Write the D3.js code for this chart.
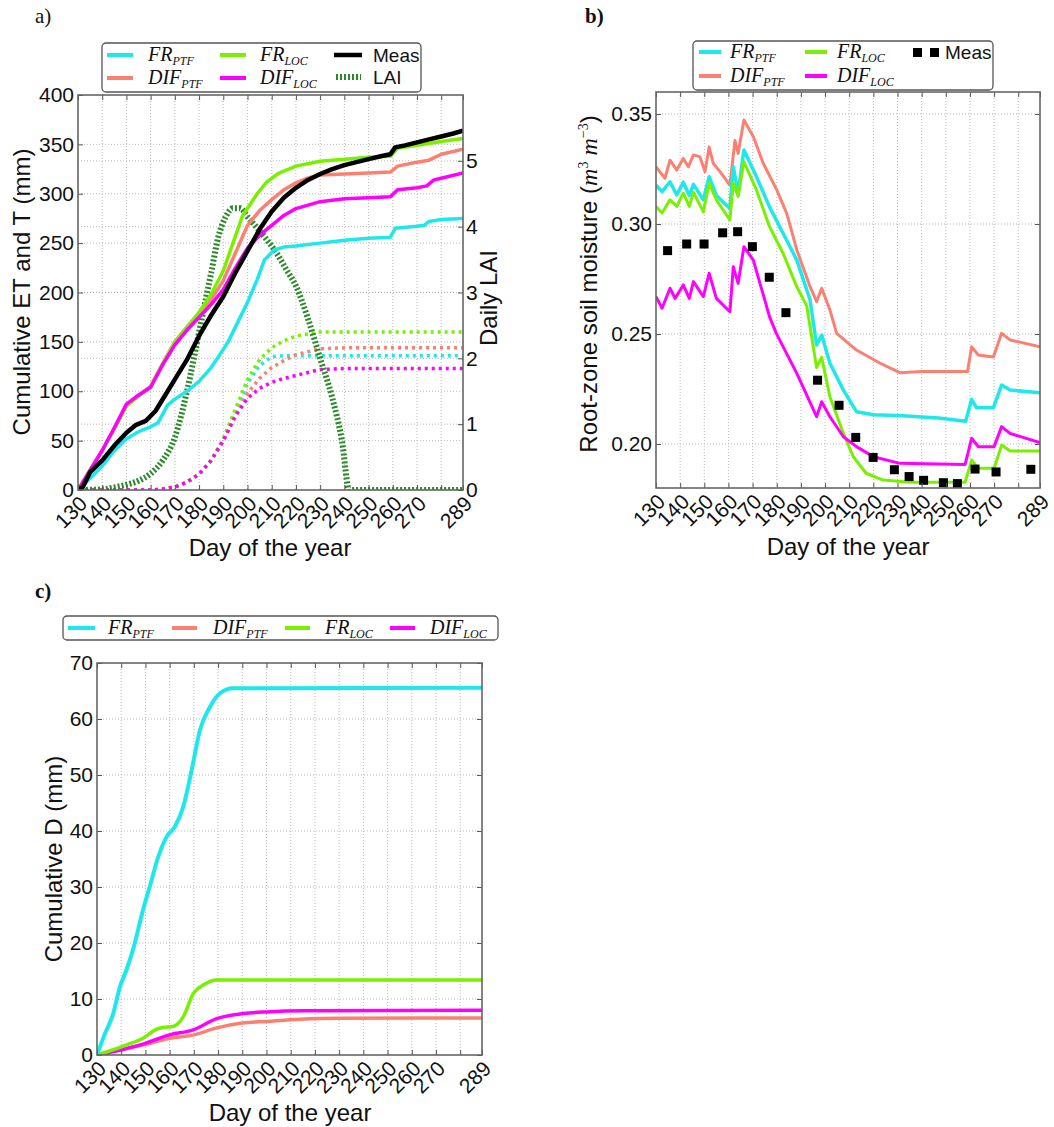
<!DOCTYPE html>
<html><head><meta charset="utf-8">
<script src="https://cdn.jsdelivr.net/npm/d3@7"></script>
<style>
body{margin:0;background:#fff;}
text{font-family:"Liberation Sans",Arial,Helvetica,sans-serif;fill:#111;}
</style>
</head><body>
<svg id="chart" width="1054" height="1127"></svg>
<script>
// ---------------- DATA ----------------
const dayTicks = [130,140,150,160,170,180,190,200,210,220,230,240,250,260,270,280,289];
const dayTickLabels = ["130","140","150","160","170","180","190","200","210","220","230","240","250","260","270","","289"];

// Panel a: cumulative ET (solid, mm)
const etFrPtf = [[130,0],[135,12],[140,24],[145,40],[150,52],[155,59],[160,64],[163,68],[167,86],[170,92],[175,100],[180,110],[185,124],[188,135],[192,150],[196,170],[200,190],[204,213],[207,233],[211,243],[215,246],[220,247],[230,250],[240,253],[250,255],[259,256],[261,265],[270,267],[273,268],[275,272],[280,274],[289,275]];
const etDifPtf = [[130,0],[135,20],[140,40],[145,62],[150,86],[155,96],[160,105],[165,128],[170,150],[175,165],[180,178],[185,193],[190,212],[195,240],[200,268],[205,283],[210,294],[215,304],[220,311],[225,316],[230,319],[240,320],[250,321],[259,322],[262,328],[270,332],[275,334],[280,340],[289,345]];
const etFrLoc = [[130,0],[135,20],[140,40],[145,62],[150,85],[155,95],[160,105],[165,128],[170,150],[175,165],[180,180],[185,198],[190,222],[194,250],[198,278],[204,300],[208,312],[213,321],[220,328],[230,333],[240,335],[250,337],[259,338],[262,346],[270,349],[280,353],[289,356]];
const etDifLoc = [[130,0],[135,20],[140,40],[145,63],[150,87],[155,96],[160,104],[165,127],[170,147],[175,162],[180,175],[185,188],[190,203],[195,225],[200,245],[205,258],[210,268],[215,278],[220,285],[230,292],[240,295],[250,296],[259,297],[262,304],[270,306],[274,308],[277,314],[289,321]];
const etMeas = [[130,0],[132,3],[135,18],[140,30],[145,45],[150,58],[154,66],[158,70],[162,80],[166,96],[170,112],[175,132],[180,156],[185,177],[190,196],[195,220],[200,242],[205,264],[210,282],[215,296],[220,306],[225,314],[230,320],[235,325],[240,329],[245,332],[250,335],[255,338],[259,340],[261,347],[265,349],[270,352],[275,355],[280,358],[285,361],[289,364]];
// Panel a: cumulative T (dotted, mm)
const tFrPtf = [[130,0],[160,0],[165,1],[170,3],[175,8],[180,16],[185,30],[190,50],[195,78],[200,108],[205,126],[210,135],[215,136],[289,136]];
const tDifPtf = [[130,0],[160,0],[165,1],[170,3],[175,8],[180,16],[185,30],[190,50],[195,75],[200,98],[205,113],[210,124],[215,131],[220,137],[225,140],[230,143],[240,144],[289,144]];
const tFrLoc = [[130,0],[160,0],[165,1],[170,3],[175,8],[180,16],[185,30],[190,52],[195,82],[200,112],[205,132],[210,144],[215,151],[220,156],[225,158],[230,160],[289,160]];
const tDifLoc = [[130,0],[160,0],[165,1],[170,3],[175,8],[180,16],[185,30],[190,50],[195,75],[200,93],[205,103],[210,109],[215,113],[220,116],[225,119],[230,122],[240,123],[289,123]];
// Panel a: daily LAI (right axis)
const laiDaily = [[130,0],[140,0.01],[145,0.04],[150,0.08],[155,0.14],[160,0.25],[165,0.45],[170,0.8],[175,1.5],[180,2.4],[185,3.3],[188,3.85],[191,4.15],[194,4.28],[197,4.28],[200,4.15],[204,3.98],[208,3.8],[212,3.6],[216,3.35],[220,3.1],[225,2.6],[230,2.0],[235,1.4],[239,0.75],[242,0],[289,0]];

// Panel b: root-zone soil moisture (m3 m-3)
const smFrPtf = [[130,0.3177],[132.5,0.3147],[135.8,0.3192],[138.6,0.3132],[141.3,0.319],[143.8,0.313],[145.5,0.318],[149.6,0.311],[152,0.3215],[155,0.313],[160.6,0.307],[162,0.326],[164,0.314],[166.4,0.3336],[171.6,0.3215],[177,0.3078],[182.6,0.2958],[188.3,0.2836],[193.8,0.2655],[196.5,0.245],[198.6,0.2495],[202,0.2367],[207.6,0.2245],[213,0.2147],[220,0.2133],[232,0.2128],[247,0.2118],[258.2,0.2103],[260.7,0.2203],[262.7,0.2165],[269.7,0.2165],[273.1,0.2268],[276.6,0.2245],[289,0.2233]];
const smDifPtf = [[130,0.326],[133.7,0.3208],[135.8,0.329],[138.6,0.3245],[141.3,0.3298],[143.4,0.326],[145.5,0.3314],[148.2,0.3305],[150.3,0.3238],[152,0.335],[153.7,0.3276],[156.5,0.3238],[160.6,0.3177],[162.7,0.338],[164,0.3321],[166.4,0.3473],[170.3,0.3397],[174.4,0.3276],[180,0.3155],[184.1,0.3049],[188.3,0.2882],[193.8,0.2715],[196.5,0.2647],[198.6,0.2708],[202,0.261],[204.8,0.2503],[213,0.2427],[222.8,0.2367],[231,0.2324],[240,0.233],[259,0.233],[260.7,0.2442],[263.4,0.2405],[269.7,0.2395],[273.1,0.2503],[276.6,0.2473],[289,0.2442]];
const smFrLoc = [[130,0.3079],[132.5,0.305],[135.8,0.311],[138.6,0.308],[141.3,0.314],[143.8,0.308],[145.5,0.3145],[149.6,0.3055],[152,0.3185],[155,0.311],[160.6,0.3018],[162,0.3185],[164,0.3125],[166.4,0.3283],[171.6,0.3155],[177,0.2988],[182.6,0.2867],[188.3,0.2715],[192.4,0.2628],[196.5,0.2348],[198.6,0.2394],[202,0.2215],[207.6,0.2048],[211.7,0.1942],[217,0.1867],[224,0.1836],[235,0.1826],[258,0.1826],[260.7,0.1927],[263.4,0.189],[270,0.189],[273.1,0.1995],[276.6,0.1968],[289,0.1968]];
const smDifLoc = [[130,0.267],[132.5,0.2617],[135.8,0.2708],[137.9,0.2662],[141.3,0.2723],[143.8,0.2662],[145.5,0.2738],[149.6,0.267],[152,0.2776],[155,0.2662],[160.6,0.2601],[162,0.2806],[164,0.273],[166.4,0.2897],[170.3,0.2836],[177,0.2579],[179.8,0.2503],[188.3,0.2321],[196.5,0.2124],[198.6,0.2192],[202,0.2124],[207.6,0.2033],[213,0.1988],[220,0.1942],[231,0.1912],[258,0.1907],[260.7,0.2026],[263.4,0.1988],[270,0.1988],[273.1,0.2079],[276.6,0.2048],[289,0.2006]];
const smMeas = [[134.8,0.2879],[142.7,0.2909],[149.9,0.2909],[157.6,0.296],[163.8,0.2965],[169.9,0.2897],[176.9,0.2758],[183.8,0.2597],[196.9,0.229],[205.8,0.2176],[212.7,0.203],[219.9,0.1939],[228.7,0.1883],[234.8,0.1852],[240.8,0.1835],[249,0.1824],[254.8,0.182],[262.1,0.1886],[270.8,0.1873],[285.2,0.1885]];

// Panel c: cumulative drainage D (mm)
const dFrPtf = [[130,0],[133,3.5],[136.7,7.4],[139.5,12.2],[142,15],[145,19],[149,25.9],[152.6,31.3],[155,35],[158.8,39],[162.2,40.8],[165.6,44.3],[169.1,50.9],[172.5,58],[176.7,62.2],[180.8,64.6],[186,65.5],[289,65.6]];
const dDifPtf = [[130,0],[139.5,0.9],[152,2.1],[160,3.0],[170,3.6],[179,4.8],[190,5.7],[200,6.0],[214,6.4],[230,6.55],[289,6.6]];
const dFrLoc = [[130,0],[142.3,1.8],[149,3.0],[154.7,4.6],[157,4.9],[161.5,5.1],[165.6,6.8],[169.8,11],[173.9,12.5],[179.4,13.4],[289,13.4]];
const dDifLoc = [[130,0],[139.5,0.9],[147.8,1.8],[160,3.6],[169.8,4.5],[179.4,6.5],[190.4,7.4],[200,7.7],[215,7.9],[289,8.0]];

const etTicks = [0,50,100,150,200,250,300,350,400];
const laiTicks = [0,1,2,3,4,5];
const smTicks = [0.20,0.25,0.30,0.35];
const dTicks = [0,10,20,30,40,50,60,70];

// ---------------- STYLE ----------------
const COL = {frPtf:'#1ee8ea', difPtf:'#fa8072', frLoc:'#78f000', difLoc:'#ff00ff', meas:'#000', lai:'#2a8a2a'};
const svg = d3.select('#chart');

function panel(box, yDomain, yGridTicks){
  const g = svg.append('g');
  const x = d3.scaleLinear().domain([130,289]).range([box.l, box.r]);
  const y = d3.scaleLinear().domain(yDomain).range([box.b, box.t]);
  const grid = g.append('g');
  grid.selectAll('.vg').data(dayTicks.filter(d=>d>130&&d<289)).enter().append('line')
    .attr('x1',d=>x(d)).attr('x2',d=>x(d)).attr('y1',box.t).attr('y2',box.b)
    .attr('stroke','#aaa').attr('stroke-width',0.8).attr('stroke-dasharray','1,2');
  grid.selectAll('.hg').data(yGridTicks).enter().append('line')
    .attr('x1',box.l).attr('x2',box.r).attr('y1',d=>y(d)).attr('y2',d=>y(d))
    .attr('stroke','#aaa').attr('stroke-width',0.8).attr('stroke-dasharray','1,2');
  const clip = 'clip'+Math.round(box.l)+Math.round(box.t);
  svg.append('clipPath').attr('id',clip).append('rect')
    .attr('x',box.l).attr('y',box.t-3).attr('width',box.r-box.l).attr('height',box.b-box.t+3);
  const plot = g.append('g').attr('clip-path','url(#'+clip+')');
  return {g, grid, x, y, plot, box};
}

function axes(P, yTicks, yFmt, rightMirror){
  const {g,x,y,box} = P;
  const xb = g.append('g').attr('transform',`translate(0,${box.b})`)
    .call(d3.axisBottom(x).tickValues(dayTicks).tickFormat((d,i)=>dayTickLabels[i]).tickSizeInner(-5).tickSizeOuter(0));
  xb.selectAll('text').attr('x',0).attr('y',0).attr('dy',0)
    .attr('transform','translate(10,15) rotate(-45)').attr('text-anchor','end')
    .style('font-size','21px').style('font-family','"Liberation Sans",Arial,sans-serif').attr('fill','#111');
  g.append('g').attr('transform',`translate(0,${box.t})`)
    .call(d3.axisTop(x).tickValues(dayTicks).tickFormat('').tickSizeInner(-5).tickSizeOuter(0));
  const yl = g.append('g').attr('transform',`translate(${box.l},0)`)
    .call(d3.axisLeft(y).tickValues(yTicks).tickFormat(yFmt).tickSizeInner(-5).tickSizeOuter(0).tickPadding(4));
  yl.selectAll('text').style('font-size','21px').style('font-family','"Liberation Sans",Arial,sans-serif').attr('fill','#111');
  if(rightMirror){
    g.append('g').attr('transform',`translate(${box.r},0)`)
      .call(d3.axisRight(y).tickValues(yTicks).tickFormat('').tickSizeInner(-5).tickSizeOuter(0));
  }
  g.selectAll('.domain').remove();
  g.selectAll('.tick line').attr('stroke','#555').attr('stroke-width',1);
  g.append('rect').attr('x',box.l).attr('y',box.t).attr('width',box.r-box.l).attr('height',box.b-box.t)
    .attr('fill','none').attr('stroke','#666').attr('stroke-width',1.6);
}

function drawLine(P, data, color, width, dash, yScale, curve){
  const ys = yScale || P.y;
  const line = d3.line().x(d=>P.x(d[0])).y(d=>ys(d[1])).curve(curve||d3.curveLinear);
  P.plot.append('path').datum(data).attr('d',line).attr('fill','none')
    .attr('stroke',color).attr('stroke-width',width).attr('stroke-linejoin','round')
    .attr('stroke-dasharray',dash||null);
}

function mathLabel(g, xPos, yPos, main, sub){
  const t = g.append('text').attr('x',xPos).attr('y',yPos)
    .style('font-family','"Liberation Serif","Times New Roman",serif').style('font-style','italic');
  t.append('tspan').text(main).style('font-size','20px');
  t.append('tspan').text(sub).attr('dy',4).style('font-size','12px');
}
function plainLabel(g, xPos, yPos, txt, size){
  g.append('text').attr('x',xPos).attr('y',yPos).text(txt).style('font-size',(size||19)+'px');
}
function sample(g, x1, x2, yPos, color, width, dash){
  g.append('line').attr('x1',x1).attr('x2',x2).attr('y1',yPos).attr('y2',yPos)
    .attr('stroke',color).attr('stroke-width',width).attr('stroke-dasharray',dash||null);
}
function legendBox(x1,y1,x2,y2){
  const g = svg.append('g');
  g.append('rect').attr('x',x1).attr('y',y1).attr('width',x2-x1).attr('height',y2-y1).attr('rx',4)
    .attr('fill','#fff').attr('stroke','#555').attr('stroke-width',1.3);
  return g;
}
function titleY(txt, xPos, yPos){
  return svg.append('text').attr('transform',`translate(${xPos},${yPos}) rotate(-90)`)
    .attr('text-anchor','middle').style('font-size','24px').text(txt);
}
function titleX(txt, xPos, yPos){
  svg.append('text').attr('x',xPos).attr('y',yPos).attr('text-anchor','middle').style('font-size','24px').text(txt);
}
function panelTag(txt, xPos, yPos, bold){
  svg.append('text').attr('x',xPos).attr('y',yPos).text(txt)
    .style('font-family','"Liberation Serif","Times New Roman",serif').style('font-size','21px')
    .style('font-weight',bold?'bold':'normal');
}

// ---------------- PANEL A ----------------
const A = panel({l:78,r:463,t:95,b:490},[0,400],[50,100,150,200,250,300,350]);
const yLai = d3.scaleLinear().domain([0,6]).range([490,95]);
A.grid.selectAll('.lg').data([1,2,3,4,5]).enter().append('line')
  .attr('x1',78).attr('x2',463).attr('y1',d=>yLai(d)).attr('y2',d=>yLai(d))
  .attr('stroke','#aaa').attr('stroke-width',0.8).attr('stroke-dasharray','1,2');
drawLine(A, tFrPtf, COL.frPtf, 3.5, '3,4');
drawLine(A, tDifPtf, COL.difPtf, 3.5, '3,4');
drawLine(A, tFrLoc, COL.frLoc, 3.5, '3,4');
drawLine(A, tDifLoc, COL.difLoc, 3.5, '3,4');
drawLine(A, laiDaily, COL.lai, 6, '2,2', yLai, d3.curveMonotoneX);
drawLine(A, etFrPtf, COL.frPtf, 3.5);
drawLine(A, etDifPtf, COL.difPtf, 3.5);
drawLine(A, etFrLoc, COL.frLoc, 3.5);
drawLine(A, etDifLoc, COL.difLoc, 3.5);
drawLine(A, etMeas, COL.meas, 4.5);
axes(A, etTicks, d3.format('d'), false);
const ar = A.g.append('g').attr('transform','translate(463,0)')
  .call(d3.axisRight(yLai).tickValues(laiTicks).tickFormat(d3.format('d')).tickSizeInner(-5).tickSizeOuter(0).tickPadding(3));
ar.select('.domain').remove();
ar.selectAll('.tick line').attr('stroke','#555');
ar.selectAll('text').style('font-size','21px').style('font-family','"Liberation Sans",Arial,sans-serif').attr('fill','#111');
titleY('Cumulative ET and T (mm)', 30, 292);
titleY('Daily LAI', 497, 298);
titleX('Day of the year', 270, 556);
panelTag('a)', 35, 23, false);

const LA = legendBox(102,43,421,92);
sample(LA,107,133,55,COL.frPtf,4); mathLabel(LA,148,61,'FR','PTF');
sample(LA,220,246,55,COL.frLoc,4); mathLabel(LA,260,61,'FR','LOC');
sample(LA,334,362,55,COL.meas,4.5); plainLabel(LA,373,62,'Meas',19);
sample(LA,107,133,78,COL.difPtf,4); mathLabel(LA,148,84,'DIF','PTF');
sample(LA,220,246,78,COL.difLoc,4); mathLabel(LA,260,84,'DIF','LOC');
sample(LA,336,361,77,COL.lai,6,'2,2'); plainLabel(LA,373,84,'LAI',19);

// ---------------- PANEL B ----------------
const B = panel({l:656,r:1040,t:92,b:488},[0.18,0.36],smTicks);
drawLine(B, smDifPtf, COL.difPtf, 3);
drawLine(B, smFrPtf, COL.frPtf, 3.5);
drawLine(B, smFrLoc, COL.frLoc, 3);
drawLine(B, smDifLoc, COL.difLoc, 3);
B.plot.selectAll('.meas').data(smMeas).enter().append('rect')
  .attr('x',d=>B.x(d[0])-4.5).attr('y',d=>B.y(d[1])-4.5).attr('width',9).attr('height',9).attr('fill','#000');
axes(B, smTicks, d3.format('.2f'), true);
const tb = svg.append('text').attr('transform','translate(597,284) rotate(-90)').attr('text-anchor','middle').style('font-size','24px');
tb.append('tspan').text('Root-zone soil moisture (');
tb.append('tspan').text('m').style('font-family','"Liberation Serif",serif').style('font-style','italic');
tb.append('tspan').text('3').attr('dy',-9).style('font-size','14px').style('font-family','"Liberation Serif",serif');
tb.append('tspan').text(' m').attr('dy',9).style('font-family','"Liberation Serif",serif').style('font-style','italic');
tb.append('tspan').text('−3').attr('dy',-9).style('font-size','14px').style('font-family','"Liberation Serif",serif');
tb.append('tspan').text(')').attr('dy',9);
titleX('Day of the year', 848, 555);
panelTag('b)', 585, 23, true);

const LB = legendBox(693,41,993,90);
sample(LB,699,721,52,COL.frPtf,4); mathLabel(LB,730,58,'FR','PTF');
sample(LB,805,827,52,COL.frLoc,4); mathLabel(LB,837,58,'FR','LOC');
LB.append('rect').attr('x',913).attr('y',48).attr('width',9).attr('height',9).attr('fill','#000');
LB.append('rect').attr('x',930).attr('y',48).attr('width',9).attr('height',9).attr('fill','#000');
plainLabel(LB,945,59,'Meas',19);
sample(LB,699,721,76,COL.difPtf,4); mathLabel(LB,730,82,'DIF','PTF');
sample(LB,805,827,76,COL.difLoc,4); mathLabel(LB,837,82,'DIF','LOC');

// ---------------- PANEL C ----------------
const Cp = panel({l:97,r:482,t:663,b:1055},[0,70],[10,20,30,40,50,60]);
drawLine(Cp, dDifPtf, COL.difPtf, 3.5, null, null, d3.curveMonotoneX);
drawLine(Cp, dDifLoc, COL.difLoc, 3.5, null, null, d3.curveMonotoneX);
drawLine(Cp, dFrLoc, COL.frLoc, 3.5, null, null, d3.curveMonotoneX);
drawLine(Cp, dFrPtf, COL.frPtf, 4, null, null, d3.curveMonotoneX);
axes(Cp, dTicks, d3.format('d'), true);
titleY('Cumulative D (mm)', 62, 859);
titleX('Day of the year', 290, 1121);
panelTag('c)', 35, 598, true);

const LC = legendBox(63,616,498,640);
sample(LC,68,95,628,COL.frPtf,4); mathLabel(LC,108,634,'FR','PTF');
sample(LC,172,197,628,COL.difPtf,4); mathLabel(LC,213,634,'DIF','PTF');
sample(LC,285,310,628,COL.frLoc,4); mathLabel(LC,325,634,'FR','LOC');
sample(LC,390,415,628,COL.difLoc,4); mathLabel(LC,430,634,'DIF','LOC');
</script>
</body></html>
